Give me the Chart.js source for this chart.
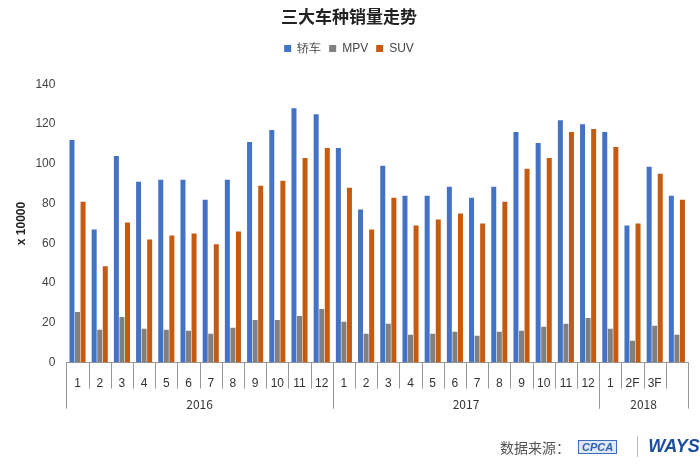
<!DOCTYPE html><html><head><meta charset="utf-8">
<script src="https://cdn.jsdelivr.net/npm/chart.js@4"></script>
<style>body{margin:0;background:#fff;font-family:"Noto Sans CJK SC",sans-serif}
#w{position:relative;width:700px;height:465px}
#foot{position:absolute;left:500px;top:436px;font-size:14px;color:#555;display:flex;align-items:center}
.cp{display:inline-block;margin-left:8px;border:1px solid #3a6fc0;color:#2f5fb0;font:italic bold 11px Arial;padding:0 3px;background:#dfe8f6}
.ways{margin-left:20px;border-left:1px solid #bbb;padding-left:10px;color:#1a4f9c;font:italic bold 18px Arial}</style></head><body>
<div id="w"><canvas id="c" width="700" height="465"></canvas>
<div id="foot">数据来源：<span class="cp">CPCA</span><span class="ways">WAYS</span></div></div>
<script>
const months=["1","2","3","4","5","6","7","8","9","10","11","12","1","2","3","4","5","6","7","8","9","10","11","12","1","2F","3F",""];
const years=[["2016",0,12],["2017",12,24],["2018",24,28]];
const sedan=[112,67,104,91,92,92,82,92,111,117,128,125,108,77,99,84,84,88.5,83,88.5,116,110.5,122,120,116,69,98.5,84];
const mpv=[25.5,16.5,23,17,16.5,16,14.5,17.5,21.5,21.5,23.5,27,20.5,14.5,19.5,14,14.5,15.5,13.5,15.5,16,18,19.5,22.5,17,11,18.5,14];
const suv=[81,48.5,70.5,62,64,65,59.5,66,89,91.5,103,108,88,67,83,69,72,75,70,81,97.5,103,116,117.5,108.5,70,95,82];
const yearPlugin={id:'yr',afterDraw(ch){const c=ch.ctx,x=ch.scales.x,top=x.top;c.save();c.strokeStyle='#999';c.lineWidth=1;c.fillStyle='#333';c.font='12px "Noto Sans CJK SC"';c.textAlign='center';
const w=(x.getPixelForValue(1)-x.getPixelForValue(0));
const ln=(p,h)=>{c.beginPath();c.moveTo(Math.round(p)+.5,top);c.lineTo(Math.round(p)+.5,top+h);c.stroke();};
for(let i=0;i<=months.length;i++)ln(x.getPixelForValue(0)-w/2+i*w,26);
years.forEach(([t,a,b])=>{const l=x.getPixelForValue(a)-w/2,r=x.getPixelForValue(b-1)+w/2;
ln(l,46);ln(r,46);c.fillText(t,(l+r)/2,top+42);});c.restore();}};
const legendPad={id:'pad',afterInit(ch){const o=ch.legend.fit;ch.legend.fit=function(){o.bind(this)();this.height+=20;};}};
new Chart(document.getElementById('c'),{type:'bar',plugins:[yearPlugin,legendPad],
data:{labels:months,datasets:[
{label:'轿车',data:sedan,backgroundColor:'#4472c4'},
{label:'MPV',data:mpv,backgroundColor:'#808080'},
{label:'SUV',data:suv,backgroundColor:'#c55a11'}]},
options:{responsive:false,animation:false,
layout:{padding:{left:10,right:12,bottom:68}},
datasets:{bar:{categoryPercentage:0.75,barPercentage:0.9}},
plugins:{title:{display:true,text:'三大车种销量走势',font:{size:17,weight:'bold',family:'"Noto Sans CJK SC"'},color:'#222',padding:{top:6,bottom:8}},
legend:{labels:{boxWidth:7,boxHeight:7,font:{size:12},color:'#444',padding:8},padding:0},tooltip:{enabled:false}},
scales:{x:{grid:{display:false},border:{color:'#999'},ticks:{color:'#333',font:{size:12},maxRotation:0,autoSkip:false,padding:6}},
y:{min:0,max:140,ticks:{stepSize:20,color:'#444',font:{size:12}},grid:{display:false},border:{display:false},
title:{display:true,text:'x 10000',font:{size:12,weight:'bold'},color:'#222'}}}}});
</script></body></html>
